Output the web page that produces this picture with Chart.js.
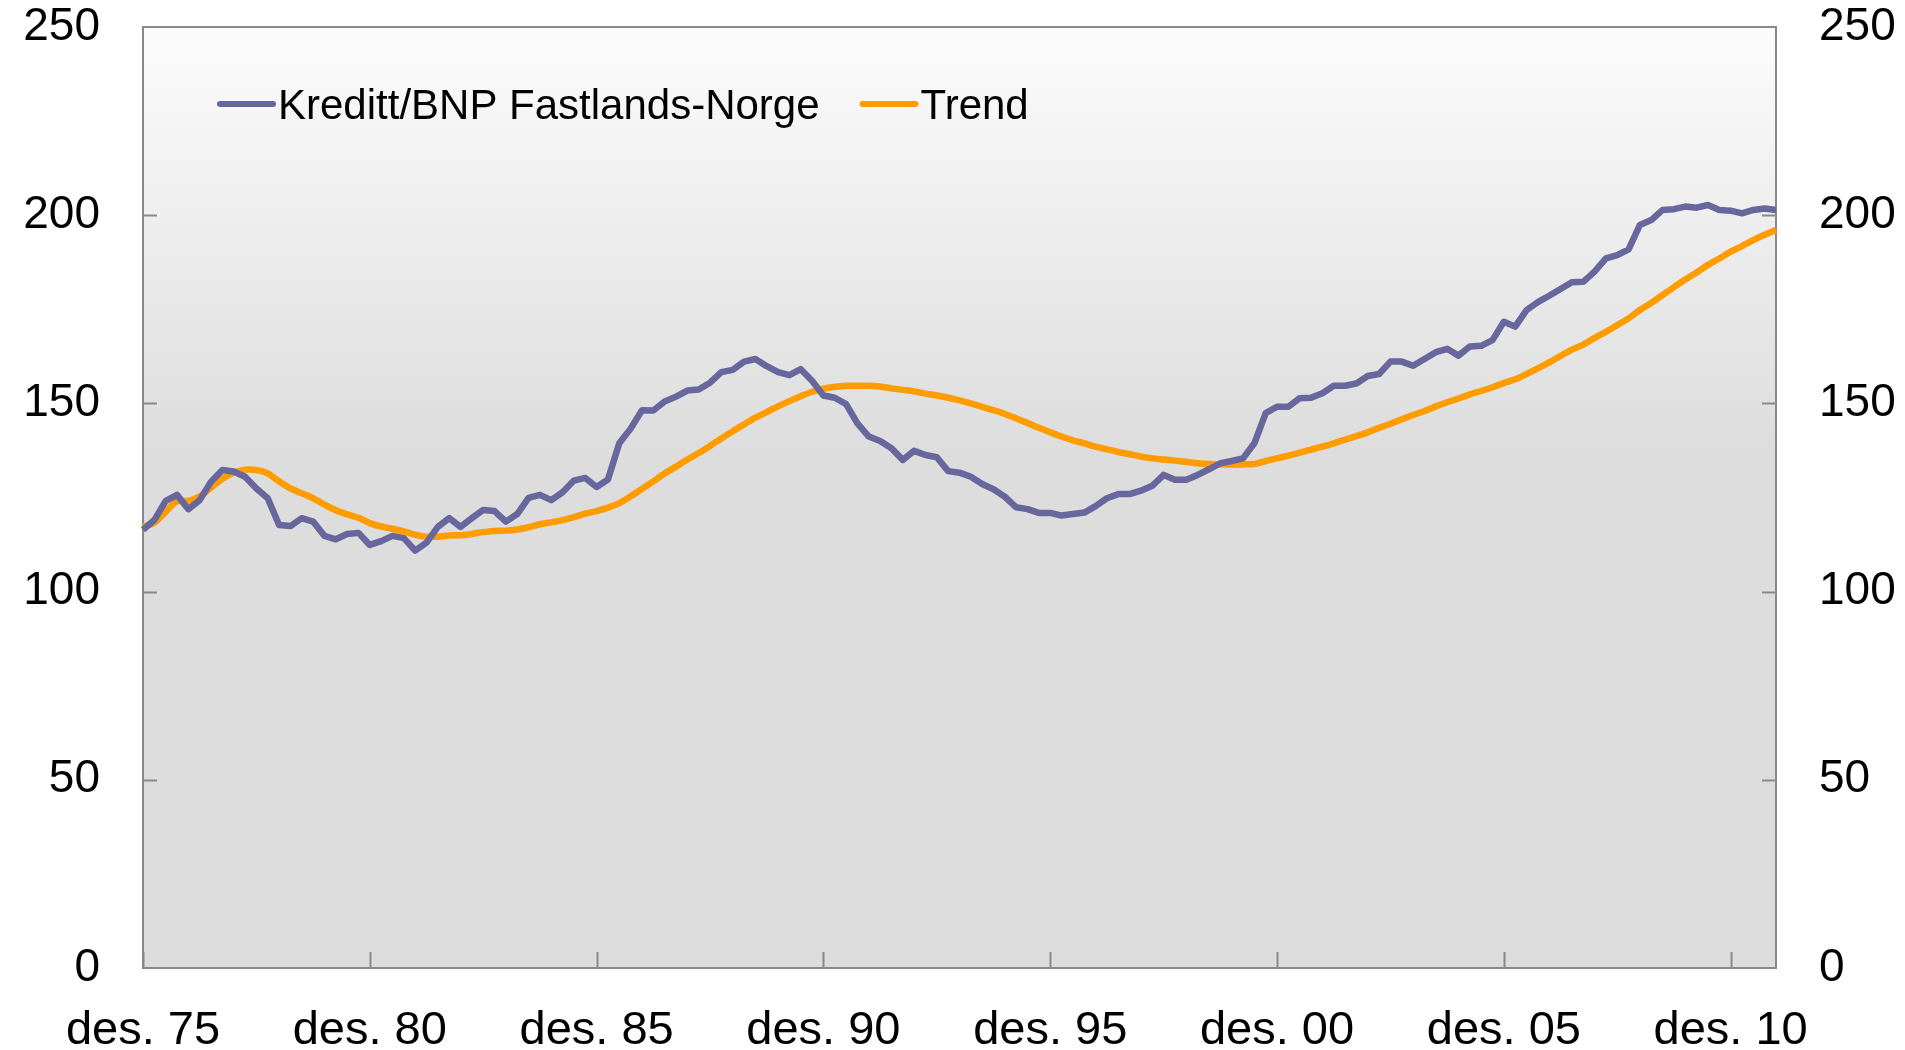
<!DOCTYPE html>
<html lang="no">
<head>
<meta charset="utf-8">
<title>Kreditt/BNP Fastlands-Norge og trend</title>
<script src="https://cdn.jsdelivr.net/npm/chart.js@4/dist/chart.umd.min.js"></script>
<style>
  html, body { margin: 0; padding: 0; background: #ffffff; }
  #wrap { width: 1905px; height: 1050px; }
</style>
</head>
<body>
<div id="wrap"><canvas id="chart" width="1905" height="1050"></canvas></div>
<script>
// Quarterly observations, 4th quarter 1975 to 4th quarter 2011
const firstYear = 1975;
const firstQuarter = 4;

const kredittBnp = [
  116.4, 119.0, 124.1, 125.7, 121.9, 124.3, 129.2, 132.3, 131.9, 130.5,
  127.4, 124.8, 117.7, 117.4, 119.5, 118.6, 114.8, 113.9, 115.3, 115.6,
  112.4, 113.4, 114.8, 114.2, 110.9, 113.0, 117.2, 119.5, 117.2, 119.5,
  121.7, 121.4, 118.6, 120.6, 124.9, 125.7, 124.3, 126.4, 129.5, 130.2,
  127.8, 129.8, 139.4, 143.3, 148.2, 148.1, 150.5, 151.8, 153.4, 153.7,
  155.5, 158.3, 158.9, 161.1, 161.8, 159.9, 158.3, 157.5, 159.1, 156.0,
  152.1, 151.5, 149.8, 144.7, 141.2, 140.0, 138.1, 135.0, 137.4, 136.3,
  135.7, 132.0, 131.6, 130.5, 128.6, 127.2, 125.2, 122.4, 121.9, 120.9,
  120.9, 120.2, 120.6, 121.0, 122.7, 124.8, 125.9, 125.9, 126.8, 128.1,
  131.0, 129.7, 129.7, 131.0, 132.5, 134.1, 134.7, 135.4, 139.4, 147.4,
  149.1, 149.1, 151.4, 151.5, 152.7, 154.7, 154.7, 155.3, 157.3, 157.8,
  161.1, 161.1, 160.0, 161.8, 163.6, 164.5, 162.7, 165.1, 165.3, 166.8,
  171.7, 170.4, 174.8, 176.9, 178.6, 180.4, 182.2, 182.3, 185.0, 188.5,
  189.4, 190.9, 197.4, 198.7, 201.4, 201.6, 202.3, 202.0, 202.7, 201.4,
  201.2, 200.5, 201.4, 201.8, 201.4
];

const trend = [
  117.2, 118.3, 121.2, 124.0, 124.1, 125.3, 127.6, 130.0, 131.6, 132.4,
  132.3, 131.4, 129.3, 127.4, 126.1, 124.8, 123.1, 121.6, 120.5, 119.6,
  118.2, 117.3, 116.7, 116.0, 115.1, 114.6, 114.6, 114.9, 115.0, 115.3,
  115.8, 116.1, 116.2, 116.5, 117.1, 117.9, 118.4, 119.0, 119.8, 120.7,
  121.4, 122.3, 123.5, 125.3, 127.3, 129.3, 131.4, 133.2, 135.1, 136.8,
  138.7, 140.7, 142.6, 144.4, 146.2, 147.7, 149.2, 150.6, 151.9, 153.1,
  153.9, 154.4, 154.7, 154.7, 154.7, 154.5, 154.0, 153.6, 153.2, 152.6,
  152.1, 151.5, 150.8, 150.0, 149.1, 148.2, 147.2, 146.0, 144.8, 143.5,
  142.3, 141.2, 140.2, 139.4, 138.5, 137.8, 137.1, 136.5, 135.9, 135.4,
  135.1, 134.8, 134.5, 134.1, 133.9, 133.8, 133.8, 133.8, 133.9, 134.7,
  135.4, 136.1, 136.9, 137.7, 138.5, 139.4, 140.4, 141.3, 142.3, 143.5,
  144.6, 145.8, 146.9, 148.0, 149.2, 150.3, 151.3, 152.4, 153.3, 154.3,
  155.4, 156.4, 157.8, 159.3, 160.9, 162.6, 164.3, 165.6, 167.4, 169.0,
  170.8, 172.6, 174.8, 176.7, 178.8, 180.9, 182.9, 184.8, 186.8, 188.5,
  190.3, 191.8, 193.4, 194.8, 196.1
];

const xTickLabels = ['des. 75', 'des. 80', 'des. 85', 'des. 90', 'des. 95', 'des. 00', 'des. 05', 'des. 10'];
const yTickValues = [0, 50, 100, 150, 200, 250];
const seriesNames = ['Kreditt/BNP Fastlands-Norge', 'Trend'];
const seriesColors = ['#67679e', '#ff9c00'];

// Category labels: one per quarter ("1975K4", "1976K1", ...)
const quarters = kredittBnp.map((_, i) => {
  const n = (firstQuarter - 1) + i;
  return (firstYear + Math.floor(n / 4)) + 'K' + ((n % 4) + 1);
});
const quartersPerTick = 20;

const FONT = '"Liberation Sans", Arial, sans-serif';
const AXIS_GREY = '#898989';

// Plot background (vertical grey gradient), frame and inward tick marks
const framePlugin = {
  id: 'frame',
  beforeDraw(chart) {
    const { ctx, chartArea: a } = chart;
    const g = ctx.createLinearGradient(0, a.top, 0, a.bottom);
    g.addColorStop(0, '#fcfcfc');
    g.addColorStop(0.45, '#dddddd');
    g.addColorStop(1, '#dcdcdc');
    ctx.save();
    ctx.fillStyle = g;
    ctx.fillRect(a.left, a.top, a.right - a.left, a.bottom - a.top);
    ctx.restore();
  },
  beforeDatasetsDraw(chart) {
    const { ctx, chartArea: a, scales } = chart;
    ctx.save();
    ctx.strokeStyle = AXIS_GREY;
    ctx.lineWidth = 2;
    ctx.beginPath();
    scales.y.ticks.forEach(t => {
      if (t.value <= 0 || t.value >= 250) return;
      const py = Math.round(scales.y.getPixelForValue(t.value)) + 0.5;
      ctx.moveTo(a.left, py); ctx.lineTo(a.left + 14, py);
      ctx.moveTo(a.right, py); ctx.lineTo(a.right - 14, py);
    });
    scales.x.ticks.forEach(t => {
      const px = Math.round(scales.x.getPixelForValue(t.value)) + 0.5;
      ctx.moveTo(px, a.bottom); ctx.lineTo(px, a.bottom - 16);
    });
    ctx.stroke();
    ctx.strokeRect(a.left, a.top, a.right - a.left, a.bottom - a.top);
    ctx.restore();
  }
};

// Legend drawn inside the plot, top left
const insideLegend = {
  id: 'insideLegend',
  afterDraw(chart) {
    const { ctx, chartArea: a } = chart;
    ctx.save();
    ctx.font = '42px ' + FONT;
    ctx.textBaseline = 'alphabetic';
    ctx.lineCap = 'round';
    ctx.lineWidth = 6;
    let x = a.left + 77;
    const yLine = a.top + 77;
    const yText = a.top + 92;
    chart.data.datasets.forEach(ds => {
      ctx.strokeStyle = ds.borderColor;
      ctx.beginPath();
      ctx.moveTo(x, yLine); ctx.lineTo(x + 53, yLine);
      ctx.stroke();
      ctx.fillStyle = '#000000';
      ctx.fillText(ds.label, x + 58, yText);
      x += 58 + ctx.measureText(ds.label).width + 43;
    });
    ctx.restore();
  }
};

// Value axes: no extra top/bottom room for the end labels
function valueAxis(position, width) {
  return {
    position,
    min: 0,
    max: 250,
    grid: { display: false, drawTicks: false },
    border: { display: false },
    afterBuildTicks(scale) {
      scale.ticks = yTickValues.map(v => ({ value: v }));
    },
    afterFit(scale) {
      scale.width = width;
      scale.paddingTop = 0;
      scale.paddingBottom = 0;
    },
    ticks: {
      padding: 43,
      color: '#000000',
      font: { family: FONT, size: 46 }
    }
  };
}

new Chart(document.getElementById('chart'), {
  type: 'line',
  data: {
    labels: quarters,
    datasets: [
      {
        label: seriesNames[0],
        data: kredittBnp,
        borderColor: seriesColors[0],
        backgroundColor: seriesColors[0],
        borderWidth: 6.5,
        pointRadius: 0,
        tension: 0,
        borderJoinStyle: 'round',
        yAxisID: 'y'
      },
      {
        label: seriesNames[1],
        data: trend,
        borderColor: seriesColors[1],
        backgroundColor: seriesColors[1],
        borderWidth: 6.5,
        pointRadius: 0,
        tension: 0.3,
        borderJoinStyle: 'round',
        yAxisID: 'y'
      }
    ]
  },
  options: {
    responsive: false,
    animation: false,
    events: [],
    layout: { padding: { top: 27, left: 0, right: 0, bottom: 0 } },
    plugins: {
      legend: { display: false },
      tooltip: { enabled: false }
    },
    scales: {
      x: {
        type: 'category',
        offset: false,
        grid: { display: false, drawTicks: false },
        border: { display: false },
        afterBuildTicks(scale) {
          scale.ticks = scale.ticks.filter(t => t.value % quartersPerTick === 0);
        },
        afterFit(scale) {
          scale.height = 82;
          scale.paddingLeft = 0;
          scale.paddingRight = 0;
        },
        ticks: {
          autoSkip: false,
          maxRotation: 0,
          minRotation: 0,
          padding: 40,
          color: '#000000',
          font: { family: FONT, size: 47, lineHeight: 1 },
          callback: (value) => xTickLabels[value / quartersPerTick]
        }
      },
      y: valueAxis('left', 143),
      y2: valueAxis('right', 129)
    }
  },
  plugins: [framePlugin, insideLegend]
});
</script>
</body>
</html>
